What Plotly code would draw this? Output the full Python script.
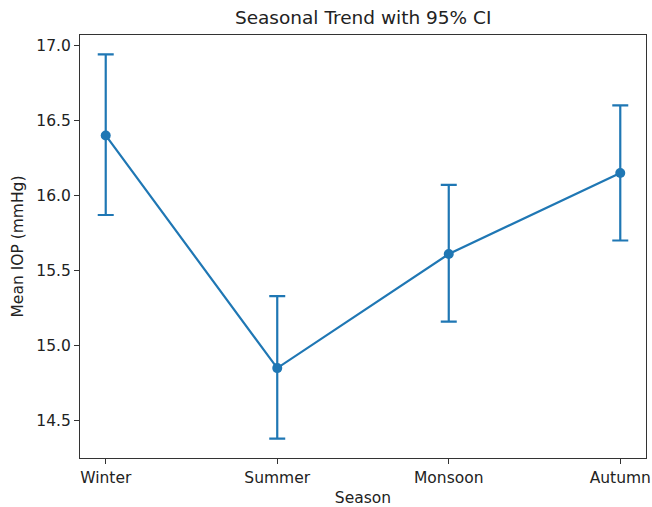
import plotly.graph_objects as go

seasons = ["Winter", "Summer", "Monsoon", "Autumn"]
mean_iop = [16.40, 14.85, 15.61, 16.15]
ci_low = [15.87, 14.38, 15.16, 15.70]
ci_high = [16.94, 15.33, 16.07, 16.60]
y_ticks = [14.5, 15.0, 15.5, 16.0, 16.5, 17.0]

color = "#1f77b4"
font = "DejaVu Sans, Arial, sans-serif"
txt = "#222222"

fig = go.Figure()
fig.add_trace(go.Scatter(
    x=list(range(len(seasons))),
    y=mean_iop,
    mode="lines+markers",
    line=dict(color=color, width=2.2),
    marker=dict(color=color, size=10),
    error_y=dict(
        type="data",
        symmetric=False,
        array=[h - m for h, m in zip(ci_high, mean_iop)],
        arrayminus=[m - l for m, l in zip(mean_iop, ci_low)],
        color=color,
        thickness=2.2,
        width=8,
    ),
    showlegend=False,
))

axis_common = dict(
    showline=True, linecolor="#333333", linewidth=1.2, mirror=True,
    ticks="outside", ticklen=5, tickwidth=1.2, tickcolor="#333333",
    showgrid=False, zeroline=False,
    tickfont=dict(family=font, size=15.5, color=txt),
)

fig.update_layout(
    width=652, height=507,
    margin=dict(l=80, r=6, t=35, b=49),
    paper_bgcolor="white", plot_bgcolor="white",
    title=dict(text="Seasonal Trend with 95% CI", xref="container", x=0.557,
               xanchor="center", yref="container", y=0.9645, yanchor="middle",
               font=dict(family=font, size=18.5, color=txt)),
    xaxis=dict(
        tickmode="array", tickvals=list(range(len(seasons))), ticktext=seasons,
        range=[-0.15, 3.15], automargin=False,
        title=dict(text="Season", font=dict(family=font, size=15.5, color=txt), standoff=6),
        **axis_common,
    ),
    yaxis=dict(
        tickmode="array", tickvals=y_ticks, ticktext=[f"{v:.1f}" for v in y_ticks],
        range=[14.251, 17.069], automargin=False,
        title=dict(text="Mean IOP (mmHg)", font=dict(family=font, size=15.5, color=txt), standoff=8),
        **axis_common,
    ),
)

# remove the default page margin and scrollbars so the figure fills the window exactly
fig.write_html(
    "out.html",
    config={"displayModeBar": False},
    post_script=(
        "document.body.style.margin='0';"
        "document.body.style.overflow='hidden';"
        "document.documentElement.style.overflow='hidden';"
    ),
)
